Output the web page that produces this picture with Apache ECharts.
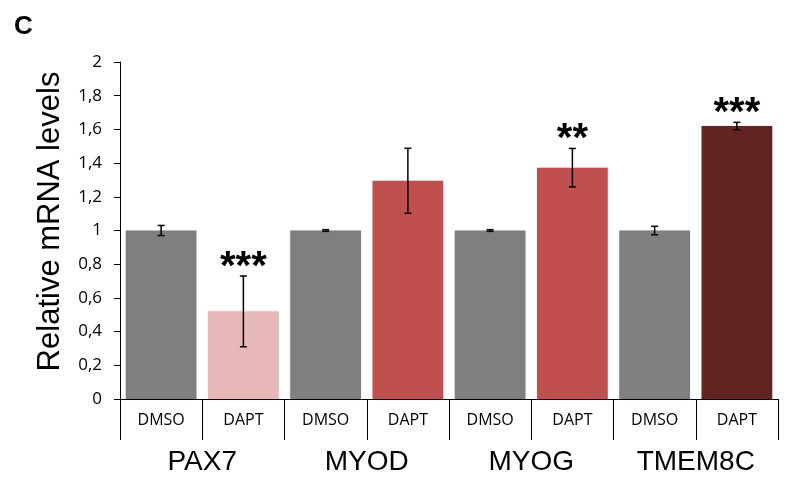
<!DOCTYPE html>
<html>
<head>
<meta charset="utf-8">
<script src="https://cdn.jsdelivr.net/npm/echarts@6/dist/echarts.min.js"></script>
<style>
html,body{margin:0;padding:0;background:#fff;}
#chart{width:789px;height:482px;}
</style>
</head>
<body>
<div id="chart"></div>
<script>
// ---- data ----
var treatments = ['DMSO', 'DAPT', 'DMSO', 'DAPT', 'DMSO', 'DAPT', 'DMSO', 'DAPT'];
var genes = ['PAX7', 'MYOD', 'MYOG', 'TMEM8C'];
var values = [1.0, 0.52, 1.0, 1.295, 1.0, 1.373, 1.0, 1.62];
var errors = [0.03, 0.21, 0.005, 0.193, 0.005, 0.114, 0.025, 0.022];
var stars = ['', '***', '', '', '', '**', '', '***'];
var barColors = ['#7f7f7f', '#e6b9b8', '#7f7f7f', '#c0504d', '#7f7f7f', '#c0504d', '#7f7f7f', '#632523'];
var yTicks = { min: 0, max: 2, interval: 0.2 };

var chart = echarts.init(document.getElementById('chart'), null, { renderer: 'canvas' });

var barData = values.map(function (v, i) {
  return { value: v, itemStyle: { color: barColors[i] } };
});
var errData = values.map(function (v, i) {
  return [i, v - errors[i], v + errors[i], stars[i]];
});

var option = {
  backgroundColor: '#fff',
  animation: false,
  graphic: [{
    type: 'text', left: 14, top: 14,
    style: { text: 'C', font: 'bold 26px "Liberation Sans", Arial, sans-serif', fill: '#000' }
  }],
  grid: { left: 120, right: 11, top: 62, bottom: 83, containLabel: false },
  xAxis: [{
    type: 'category',
    data: treatments,
    axisLine: { show: true, lineStyle: { color: '#000', width: 1 } },
    axisTick: { show: true, interval: 0, length: 41, alignWithLabel: false, lineStyle: { color: '#000', width: 1 } },
    axisLabel: { interval: 0, fontSize: 16, margin: 13, color: '#000', fontFamily: '"Open Sans", sans-serif' },
    splitLine: { show: false }
  }, {
    type: 'category',
    data: genes,
    position: 'bottom',
    axisLine: { show: false },
    axisTick: { show: false },
    axisLabel: { interval: 0, fontSize: 28, margin: 49, color: '#000', fontFamily: '"Liberation Sans", Arial, sans-serif' },
    splitLine: { show: false }
  }],
  yAxis: {
    type: 'value',
    min: yTicks.min, max: yTicks.max, interval: yTicks.interval,
    name: 'Relative mRNA levels',
    nameLocation: 'middle',
    nameGap: 54,
    nameTextStyle: { fontSize: 31, color: '#000', fontFamily: '"Liberation Sans", Arial, sans-serif', padding: [0, 0, 0, 18] },
    axisLine: { show: true, lineStyle: { color: '#000', width: 1 } },
    axisTick: { show: true, length: 6, lineStyle: { color: '#000', width: 1 } },
    splitLine: { show: false },
    axisLabel: {
      fontSize: 17, margin: 18, color: '#000', fontFamily: '"Open Sans", sans-serif',
      formatter: function (v) { return String(Math.round(v * 10) / 10).replace('.', ','); }
    }
  },
  series: [{
    type: 'bar',
    xAxisIndex: 0,
    data: barData,
    barCategoryGap: '14%',
    itemStyle: { shadowBlur: 2, shadowColor: 'rgba(0,0,0,0.15)' }
  }, {
    type: 'custom',
    xAxisIndex: 0,
    data: errData,
    z: 10,
    renderItem: function (params, api) {
      var lo = api.coord([api.value(0), api.value(1)]);
      var hi = api.coord([api.value(0), api.value(2)]);
      var star = stars[params.dataIndex];
      var hw = 3.5;
      var s = { stroke: '#000', lineWidth: 1.5 };
      var children = [
        { type: 'line', shape: { x1: lo[0], y1: lo[1], x2: hi[0], y2: hi[1] }, style: s },
        { type: 'line', shape: { x1: lo[0] - hw, y1: lo[1], x2: lo[0] + hw, y2: lo[1] }, style: s },
        { type: 'line', shape: { x1: hi[0] - hw, y1: hi[1], x2: hi[0] + hw, y2: hi[1] }, style: s }
      ];
      if (star) {
        children.push({
          type: 'text',
          style: {
            text: star, x: hi[0], y: hi[1] + 12,
            align: 'center', verticalAlign: 'bottom',
            font: 'bold 40px "Liberation Sans", Arial, sans-serif', fill: '#000'
          }
        });
      }
      return { type: 'group', children: children };
    }
  }]
};
chart.setOption(option);
</script>
</body>
</html>
